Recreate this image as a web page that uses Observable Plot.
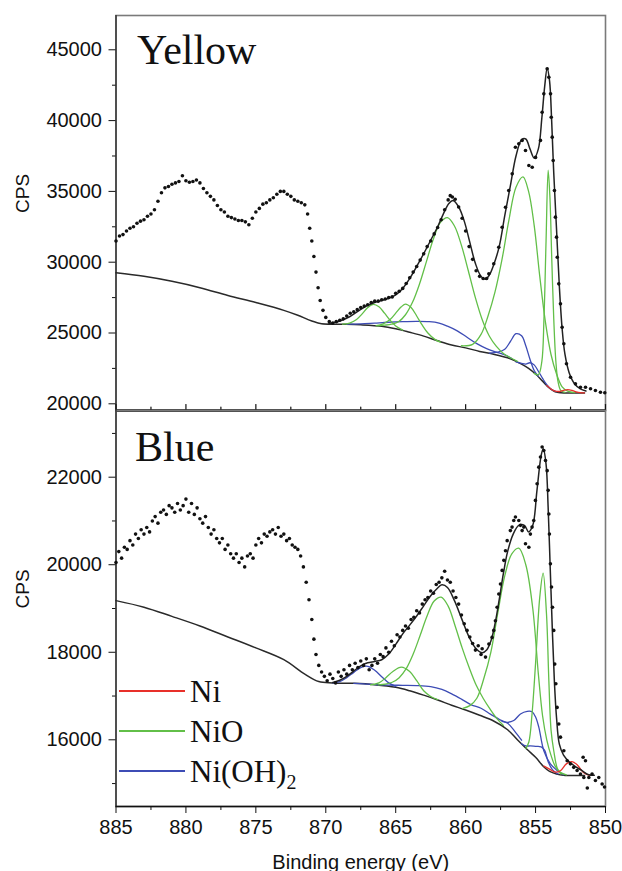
<!DOCTYPE html>
<html><head><meta charset="utf-8">
<script src="https://cdn.jsdelivr.net/npm/d3@7"></script>
<script src="https://cdn.jsdelivr.net/npm/@observablehq/plot@0.6"></script>
<style>
body{margin:0;background:#fff;}
#wrap{position:relative;width:622px;height:871px;overflow:hidden;background:#fff;}
#wrap svg{display:block;}
</style></head><body><div id="wrap"></div>
<script>
// ---------- axes ----------
const xDomain = [885, 850];
const xMajor = [885, 880, 875, 870, 865, 860, 855, 850];
const xMinor = [882.5, 877.5, 872.5, 867.5, 862.5, 857.5, 852.5];
const yellowDomain = [19527, 47422];
const yellowMajor = [20000, 25000, 30000, 35000, 40000, 45000];
const yellowMinor = [22500, 27500, 32500, 37500, 42500];
const blueDomain = [14476, 23524];
const blueMajor = [16000, 18000, 20000, 22000];
const blueMinor = [15000, 17000, 19000, 21000, 23000];
const panelTitles = ["Yellow", "Blue"];
const yLabel = "CPS";
const xLabel = "Binding energy (eV)";
const legendLabels = [["Ni", ""], ["NiO", ""], ["Ni(OH)", "2"]];
const legendColors = ["#e8302a", "#62bf48", "#3d4cb5"];

// ---------- Yellow: measured points [eV, CPS] ----------
const yellowDots = [[885.0,31500],[884.75,31850],[884.5,31950],[884.25,32200],[884.0,32400],[883.75,32500],[883.5,32750],[883.25,32900],[883.0,33000],[882.75,33250],[882.5,33400],[882.25,33700],[882.0,34300],[881.75,34900],[881.5,35250],[881.25,35350],[881.0,35500],[880.75,35600],[880.5,35700],[880.25,36100],[880.0,35750],[879.75,35650],[879.5,35700],[879.25,35800],[879.0,35600],[878.75,35200],[878.5,34900],[878.25,34650],[878.0,34400],[877.75,34000],[877.5,33700],[877.25,33550],[877.0,33250],[876.75,33150],[876.5,33050],[876.25,32950],[876.0,32950],[875.75,32850],[875.5,32650],[875.25,33100],[875.0,33550],[874.75,33800],[874.5,34100],[874.25,34200],[874.0,34400],[873.75,34550],[873.5,34800],[873.25,35000],[873.0,35000],[872.75,34800],[872.5,34650],[872.25,34400],[872.0,34300],[871.75,34200],[871.5,34050],[871.3,33400],[871.15,32400],[871.0,31500],[870.85,30400],[870.7,29300],[870.55,28200],[870.4,27300],[870.2,26600],[870.0,26100],[869.75,25800],[869.5,25700],[869.25,25800],[869.0,25900],[868.75,26000],[868.5,26200],[868.25,26400],[868.0,26500],[867.75,26650],[867.5,26800],[867.25,26900],[867.0,27000],[866.75,27150],[866.5,27250],[866.25,27250],[866.0,27350],[865.75,27400],[865.5,27500],[865.25,27550],[865.0,27800],[864.75,27950],[864.5,28150],[864.25,28500],[864.0,28900],[863.75,29300],[863.5,29700],[863.25,30150],[863.0,30600],[862.75,31100],[862.5,31500],[862.25,32000],[862.0,32450],[861.75,33000],[861.5,33700],[861.25,34400],[861.1,34700],[860.95,34600],[860.75,34450],[860.5,33900],[860.25,33100],[860.0,32200],[859.75,31100],[859.5,30200],[859.25,29400],[859.0,29000],[858.75,28850],[858.5,28850],[858.34,29180],[857.99,29890],[857.63,31060],[857.39,32470],[857.15,33880],[856.92,35060],[856.67,36240],[856.44,38120],[856.2,38360],[855.96,38600],[855.72,37890],[855.48,36830],[855.24,36710],[855.0,37400],[854.65,38600],[854.53,40590],[854.41,41890],[854.17,43660],[854.05,43060],[853.93,41890],[853.88,40240],[853.81,38830],[853.74,37180],[853.65,35060],[853.58,33180],[853.5,31770],[853.45,30350],[853.34,28470],[853.22,27060],[853.1,25410],[852.98,24240],[852.79,22830],[852.5,21880],[852.15,21410],[851.79,21170],[851.43,21170],[851.07,21060],[850.72,20940],[850.36,20820],[850.05,20780]];
const yellowEnvelope = [[869.8,25640],[869.0,25850],[868.3,26150],[867.6,26600],[867.0,26950],[866.5,27150],[866.0,27300],[865.5,27450],[865.0,27700],[864.5,28150],[864.0,28850],[863.5,29700],[863.0,30600],[862.5,31550],[862.0,32500],[861.6,33400],[861.2,34150],[860.9,34350],[860.5,33900],[860.1,32900],[859.7,31400],[859.3,29900],[858.9,29000],[858.6,28800],[858.3,29100],[858.0,29800],[857.6,31100],[857.2,33300],[856.8,35400],[856.4,37500],[856.0,38650],[855.7,38700],[855.4,38000],[855.1,37350],[854.8,38000],[854.55,40200],[854.35,42400],[854.17,43700],[854.0,42800],[853.85,40000],[853.7,36300],[853.5,32300],[853.3,28300],[853.1,25300],[852.9,23500],[852.6,22200],[852.2,21400],[851.8,21050],[851.4,20900]];
const yellowBackground = [[885,29250],[883,29000],[881,28650],[879,28200],[877,27650],[875,27150],[873,26600],[872,26250],[871,25850],[870.3,25650],[869,25620],[867.5,25580],[866,25480],[865,25300],[864,25050],[863,24780],[862,24450],[861,24150],[860,23950],[859,23700],[858,23500],[857,23250],[856.5,23050],[856,22800],[855.5,22500],[855,22100],[854.5,21600],[854,21100],[853.6,20850],[853.2,20780],[852,20770],[851.5,20770]];
const yellowNiO1 = [[868.8,25620],[868.3,25700],[867.8,25950],[867.4,26350],[867.0,26800],[866.6,27020],[866.2,26850],[865.8,26400],[865.4,25900],[865.0,25500],[864.5,25200]];
const yellowNiO2 = [[866.4,25520],[865.9,25650],[865.4,25950],[865.0,26400],[864.6,26850],[864.3,27040],[863.9,26800],[863.5,26200],[863.1,25550],[862.7,25000],[862.2,24550],[861.8,24350]];
const yellowNiO3 = [[866.3,25500],[865.8,25550],[865.3,25620],[864.8,25790],[864.3,26290],[863.8,27165],[863.3,28460],[862.8,30060],[862.3,31660],[861.8,32810],[861.3,33150],[860.8,32560],[860.3,31190],[859.8,29360],[859.3,27480],[858.8,25900],[858.3,24770],[857.8,24050],[857.3,23560],[856.8,23250],[856.3,23000]];
const yellowNiO4 = [[860.3,24100],[859.5,24200],[858.9,24900],[858.4,26200],[857.9,27900],[857.4,30200],[856.9,33000],[856.4,35300],[855.9,36030],[855.5,35000],[855.1,32600],[854.7,29000],[854.3,25800],[853.9,23500],[853.5,22100],[853.1,21200],[852.7,20900],[852.2,20790]];
const yellowNiO5 = [[855.1,22150],[854.8,22050],[854.55,23000],[854.4,26000],[854.25,31500],[854.1,36500],[853.97,34500],[853.85,30500],[853.7,26000],[853.55,23000],[853.4,21600],[853.2,20950],[852.9,20800]];
const yellowOH1 = [[868.5,25620],[867.5,25640],[866.5,25700],[865.5,25760],[864.5,25800],[863.5,25820],[862.6,25800],[861.9,25700],[861.3,25480],[860.6,25150],[859.9,24700],[859.2,24250],[858.5,23900],[857.8,23650],[857.2,23450],[856.7,23200]];
const yellowOH2 = [[858.3,23580],[857.7,23650],[857.2,23850],[856.8,24400],[856.4,24950],[856.0,24800],[855.7,24100],[855.4,23150],[855.1,22350],[854.8,21950]];
const yellowOH3 = [[856.4,22960],[856.0,22850],[855.7,22800],[855.4,22900],[855.1,22750],[854.8,22300],[854.5,21800],[854.2,21350],[853.9,21050],[853.5,20850]];
const yellowNi = [[854.2,21300],[853.9,21050],[853.6,20900],[853.3,20870],[853.0,20950],[852.7,21000],[852.4,20950],[852.1,20850],[851.8,20790],[851.5,20775]];

// ---------- Blue: measured points [eV, CPS] ----------
const blueDots = [[885.0,20050],[884.8,20300],[884.6,20150],[884.4,20400],[884.2,20350],[884.0,20550],[883.8,20450],[883.6,20700],[883.4,20600],[883.2,20800],[883.0,20700],[882.8,20850],[882.6,20750],[882.4,21000],[882.2,21100],[882.0,20950],[881.8,21200],[881.6,21250],[881.4,21150],[881.2,21350],[881.0,21300],[880.8,21200],[880.6,21400],[880.4,21250],[880.2,21350],[880.0,21500],[879.8,21200],[879.6,21400],[879.4,21150],[879.2,21300],[879.0,21050],[878.8,20950],[878.6,21100],[878.4,20850],[878.2,20700],[878.0,20800],[877.8,20600],[877.6,20500],[877.4,20600],[877.2,20350],[877.0,20450],[876.8,20250],[876.6,20150],[876.4,20250],[876.2,20050],[876.0,20150],[875.8,19950],[875.6,20200],[875.4,20250],[875.2,20150],[875.0,20450],[874.8,20600],[874.6,20500],[874.4,20700],[874.2,20650],[874.0,20750],[873.8,20800],[873.6,20700],[873.4,20850],[873.2,20650],[873.0,20700],[872.8,20550],[872.6,20600],[872.4,20450],[872.2,20400],[872.0,20350],[871.8,20200],[871.6,19950],[871.4,19600],[871.2,19200],[871.0,18750],[870.85,18300],[870.7,17950],[870.5,17700],[870.3,17550],[870.1,17450],[869.9,17350],[869.7,17500],[869.5,17400],[869.3,17300],[869.1,17550],[868.9,17450],[868.7,17600],[868.5,17500],[868.3,17700],[868.1,17600],[867.9,17750],[867.7,17650],[867.5,17800],[867.3,17700],[867.1,17850],[866.9,17600],[866.7,17700],[866.5,17850],[866.3,17750],[866.1,17950],[865.9,17900],[865.7,18100],[865.5,18000],[865.3,18250],[865.1,18150],[864.9,18400],[864.7,18350],[864.5,18500],[864.3,18600],[864.1,18550],[863.9,18750],[863.7,18800],[863.5,18950],[863.3,18900],[863.1,19100],[862.9,19200],[862.7,19250],[862.5,19400],[862.3,19350],[862.1,19550],[861.9,19600],[861.7,19700],[861.5,19850],[861.3,19650],[861.1,19600],[860.9,19400],[860.7,19250],[860.5,19100],[860.3,18850],[860.1,18650],[859.9,18500],[859.7,18350],[859.5,18200],[859.3,18050],[859.1,18150],[858.9,17950],[858.82,18080],[858.58,17890],[858.34,18190],[858.11,18340],[857.99,18500],[857.87,18720],[857.75,19030],[857.63,19330],[857.51,19560],[857.39,19870],[857.27,20100],[857.15,20320],[857.03,20550],[856.8,20780],[856.68,20860],[856.56,21010],[856.44,21090],[856.2,21010],[856.08,20900],[855.96,20780],[855.84,20860],[855.72,20480],[855.48,20400],[855.37,20700],[855.25,20860],[855.13,21010],[855.01,21470],[854.89,21850],[854.77,22230],[854.65,22460],[854.53,22690],[854.41,22610],[854.29,22380],[854.17,22150],[854.1,21700],[854.05,21160],[854.01,20700],[853.94,20020],[853.86,19490],[853.79,19030],[853.7,18500],[853.63,17730],[853.55,17280],[853.46,16740],[853.34,16360],[853.22,16060],[852.98,15750],[852.74,15520],[852.51,15450],[852.27,15370],[852.03,15300],[851.79,15220],[851.6,15600],[851.55,15140],[851.43,15520],[851.3,14900],[851.19,15140],[850.96,15220],[850.72,15070],[850.48,15140],[850.24,14990],[850.07,14920]];
const blueEnvelope = [[869.5,17310],[869.0,17360],[868.5,17450],[868.0,17570],[867.5,17690],[867.0,17760],[866.5,17790],[866.0,17830],[865.5,17960],[865.0,18180],[864.5,18420],[864.0,18620],[863.5,18830],[863.0,19060],[862.5,19290],[862.0,19470],[861.7,19540],[861.3,19480],[860.8,19180],[860.3,18780],[859.8,18380],[859.3,18100],[858.8,17990],[858.5,18050],[858.2,18250],[857.9,18650],[857.6,19200],[857.3,19800],[857.0,20300],[856.6,20700],[856.2,20900],[855.8,20900],[855.5,20750],[855.2,20900],[854.9,21700],[854.6,22500],[854.45,22650],[854.25,22300],[854.1,21300],[853.95,19900],[853.8,18500],[853.65,17300],[853.5,16500],[853.3,15900],[853.0,15650],[852.6,15500],[852.2,15400],[851.7,15300],[851.2,15200],[850.8,15190]];
const blueBackground = [[885,19180],[883,19030],[881,18820],[879,18600],[877,18350],[875,18100],[873,17830],[871.5,17500],[870.5,17330],[869.5,17300],[868,17290],[866.5,17260],[865,17200],[864,17120],[863,17020],[862,16910],[861,16790],[860,16680],[859,16560],[858,16430],[857,16230],[856.3,16000],[855.6,15780],[855,15600],[854.4,15380],[854,15280],[853.5,15220],[853,15190],[851.5,15185]];
const blueNiO1 = [[866.8,17255],[866.2,17300],[865.7,17420],[865.2,17560],[864.6,17660],[864.0,17560],[863.5,17350],[863.0,17120],[862.5,16990],[862.0,16920]];
const blueNiO2 = [[866.25,17255],[865.75,17270],[865.25,17315],[864.75,17420],[864.25,17625],[863.75,17960],[863.25,18390],[862.75,18835],[862.25,19170],[861.75,19260],[861.25,19055],[860.75,18600],[860.25,18100],[859.75,17650],[859.25,17250],[858.75,16950],[858.25,16700],[857.75,16480],[857.3,16330]];
const blueNiO3 = [[860.2,16720],[859.7,16780],[859.2,16950],[858.7,17400],[858.2,18000],[857.7,18900],[857.2,19750],[856.7,20250],[856.2,20380],[855.7,20000],[855.2,19000],[854.8,17500],[854.5,16550],[854.2,16000],[853.9,15650],[853.6,15400],[853.2,15250],[852.8,15200]];
const blueNiO4 = [[855.7,15800],[855.48,15950],[855.25,16600],[855.0,17750],[854.7,19260],[854.46,19810],[854.22,18880],[854.05,17350],[853.89,16210],[853.7,15750],[853.45,15350],[853.2,15220]];
const blueOH1 = [[869.5,17300],[869.0,17330],[868.5,17420],[868.0,17540],[867.5,17650],[867.0,17680],[866.5,17590],[866.0,17440],[865.5,17300],[865.0,17220]];
const blueOH2 = [[868.0,17290],[867.3,17280],[866.5,17262],[865.5,17250],[864.5,17245],[863.5,17240],[862.5,17215],[861.7,17150],[861.0,17050],[860.3,16930],[859.6,16800],[858.9,16720],[858.2,16580],[857.5,16450],[857.0,16380],[856.5,16200],[856.0,15990]];
const blueOH3 = [[857.4,16420],[857.0,16400],[856.56,16440],[856.08,16590],[855.6,16650],[855.25,16640],[855.0,16520],[854.77,16290],[854.41,15750],[853.94,15450],[853.46,15300],[853.0,15200]];
const blueOH4 = [[856.0,15910],[855.7,15860],[855.37,15860],[855.0,15850],[854.6,15840],[854.35,15760],[854.1,15500],[853.8,15320],[853.4,15220]];
const blueNi = [[854.4,15400],[854.0,15330],[853.6,15260],[853.2,15300],[852.8,15450],[852.4,15500],[852.0,15420],[851.6,15260],[851.2,15195],[850.9,15185]];

// ---------- drawing ----------
const RED = legendColors[0], GREEN = legendColors[1], BLUE = legendColors[2];
const FONT = "'Liberation Sans', Arial, Helvetica, sans-serif";
const SERIF = "'Liberation Serif', 'Times New Roman', serif";
const tickUp = {draw(ctx, l) { ctx.moveTo(0, 0); ctx.lineTo(0, -l); }};

function panel(o) {
  const comp = (list, color) => list.map(s => Plot.line(s, {curve: "catmull-rom", stroke: color, strokeWidth: 1.3, clip: true}));
  const marks = [
    Plot.frame({stroke: "#7a7a7a", strokeWidth: 1.6}),
    Plot.ruleX([xDomain[0]], {stroke: "#333", strokeWidth: 1.4}),
    Plot.ruleY([o.yDomain[0]], {stroke: "#111", strokeWidth: o.bottomWidth}),
    Plot.axisY({ticks: o.yMajor, tickSize: 7, tickPadding: 7, tickFormat: d => String(d), fontSize: 20, label: null, color: "#111"}),
    Plot.axisY({ticks: o.yMinor, tickSize: 3.5, tickFormat: () => "", label: null, color: "#111"}),
    Plot.text([yLabel], {frameAnchor: "left", rotate: -90, dx: -93, fontSize: 19, fill: "#111"}),
    Plot.text([o.title], {frameAnchor: "top-left", textAnchor: "start", lineAnchor: "bottom", dx: o.titleDx, dy: o.titleDy, fontSize: 42, fontFamily: SERIF, fill: "#111"}),
    Plot.line(o.background, {curve: "catmull-rom", stroke: "#2a2a2a", strokeWidth: 1.5}),
    ...comp(o.blues, BLUE),
    ...comp(o.greens, GREEN),
    ...comp(o.reds, RED),
    Plot.line(o.envelope, {curve: "catmull-rom", stroke: "#222", strokeWidth: 1.5}),
    Plot.dot(o.dots, {r: 1.8, fill: "#111", stroke: "none"}),
    ...o.extra
  ];
  return Plot.plot({
    width: 622, height: o.height,
    marginTop: o.marginTop, marginBottom: o.marginBottom, marginLeft: 115.5, marginRight: 17,
    x: {domain: xDomain, axis: o.xAxis},
    y: {domain: o.yDomain},
    style: {fontFamily: FONT, fontSize: "20px", background: "transparent", color: "#111", overflow: "visible"},
    marks
  });
}

const wrap = document.getElementById("wrap");

const yellowPanel = panel({
  height: 410, marginTop: 15, marginBottom: 0, xAxis: null,
  yDomain: yellowDomain, yMajor: yellowMajor, yMinor: yellowMinor, bottomWidth: 2.4,
  title: panelTitles[0], titleDx: 21, titleDy: 48,
  dots: yellowDots, envelope: yellowEnvelope, background: yellowBackground,
  greens: [yellowNiO1, yellowNiO2, yellowNiO3, yellowNiO4, yellowNiO5],
  blues: [yellowOH1, yellowOH2, yellowOH3], reds: [yellowNi],
  extra: [
    Plot.vector(xMajor, {x: d => d, frameAnchor: "bottom", length: 6, shape: tickUp, anchor: "start", stroke: "#111", strokeWidth: 1.2}),
    Plot.vector(xMinor, {x: d => d, frameAnchor: "bottom", length: 3.5, shape: tickUp, anchor: "start", stroke: "#111", strokeWidth: 1.2})
  ]
});
wrap.appendChild(yellowPanel);

const bluePanel = panel({
  height: 461, marginTop: 0, marginBottom: 65, xAxis: undefined,
  yDomain: blueDomain, yMajor: blueMajor, yMinor: blueMinor, bottomWidth: 1.6,
  title: panelTitles[1], titleDx: 19, titleDy: 50,
  dots: blueDots, envelope: blueEnvelope, background: blueBackground,
  greens: [blueNiO1, blueNiO2, blueNiO3, blueNiO4],
  blues: [blueOH1, blueOH2, blueOH3, blueOH4], reds: [blueNi],
  extra: [
    Plot.axisX({ticks: xMajor, tickSize: 7, tickPadding: 6, tickFormat: d => String(d), fontSize: 20, label: null, color: "#111"}),
    Plot.axisX({ticks: xMinor, tickSize: 4, tickFormat: () => "", label: null, color: "#111"}),
    Plot.text([xLabel], {frameAnchor: "bottom", lineAnchor: "bottom", dy: 62, fontSize: 20, fill: "#111"})
  ]
});
wrap.appendChild(bluePanel);

// legend drawn inside the Blue panel
const leg = d3.select(wrap).append("svg")
  .attr("width", 622).attr("height", 461)
  .style("position", "absolute").style("left", "0px").style("top", "410px")
  .style("pointer-events", "none");
legendLabels.forEach(([main, sub], i) => {
  const g = leg.append("g").attr("transform", `translate(0,${281 + 40 * i})`);
  g.append("line").attr("x1", 119).attr("x2", 185).attr("y1", 0).attr("y2", 0)
    .attr("stroke", legendColors[i]).attr("stroke-width", 2);
  const t = g.append("text").attr("x", 190).attr("y", 11)
    .attr("font-family", SERIF).attr("font-size", 31).attr("fill", "#111").text(main);
  if (sub) t.append("tspan").attr("font-size", 20).attr("dy", 7).text(sub);
});
</script>
</body></html>
